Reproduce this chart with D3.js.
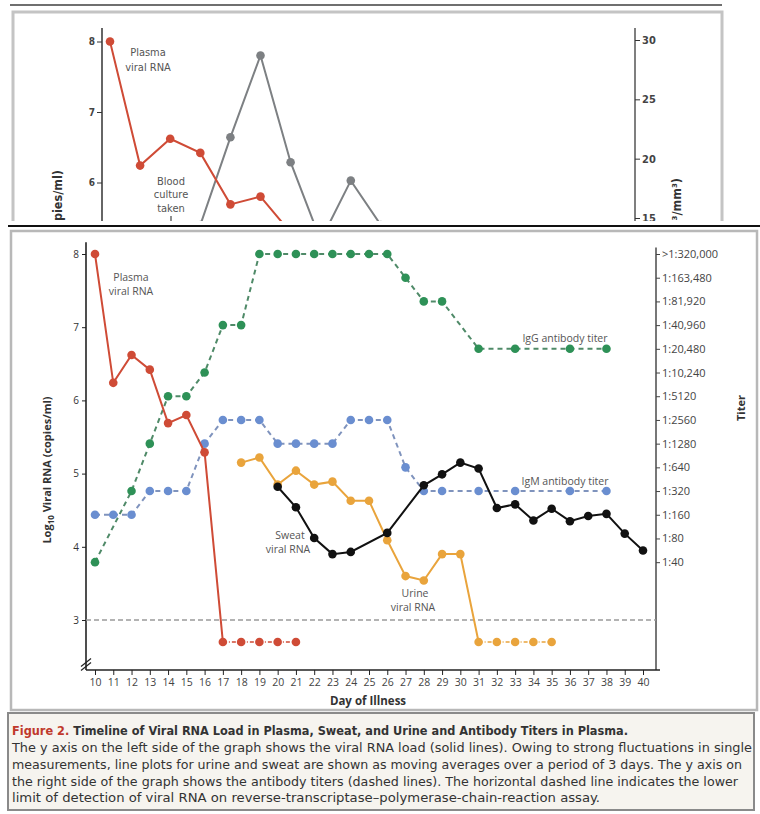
<!DOCTYPE html>
<html>
<head>
<meta charset="utf-8">
<script src="https://cdn.jsdelivr.net/npm/d3@7"></script>
<style>
  body { margin: 0; background: #fff; }
  svg text { font-family: "Open Sans", "DejaVu Sans", sans-serif; }
  .narrow { font-family: "Liberation Sans Narrow", "DejaVu Sans Condensed", "Open Sans", sans-serif !important; }
</style>
</head>
<body>
<svg id="chart" width="760" height="814"></svg>
<script>
// ---- data ----
var dayTicks = [10,11,12,13,14,15,16,17,18,19,20,21,22,23,24,25,26,27,28,29,30,31,32,33,34,35,36,37,38,39,40];
var leftTicks = [3,4,5,6,7,8];
var titerLevels = ["1:40","1:80","1:160","1:320","1:640","1:1280","1:2560","1:5120",
                   "1:10,240","1:20,480","1:40,960","1:81,920","1:163,480",">1:320,000"];

var detectionLimit = 3;
var undetected = 2.7;   // where negative samples are plotted

var plasmaDays = [10,11,12,13,14,15,16];
var plasmaVals = [8.0,6.24,6.62,6.42,5.69,5.80,5.29];
var plasmaNegDays = [17,18,19,20,21];

var urineDays = [18,19,20,21,22,23,24,25,26,27,28,29,30];
var urineVals = [5.15,5.22,4.85,5.04,4.85,4.89,4.63,4.63,4.09,3.60,3.54,3.90,3.90];
var urineNegDays = [31,32,33,34,35];

var sweatDays = [20,21,22,23,24,26,28,29,30,31,32,33,34,35,36,37,38,39,40];
var sweatVals = [4.82,4.54,4.12,3.90,3.93,4.19,4.84,4.99,5.15,5.07,4.53,4.58,4.36,4.52,4.35,4.42,4.45,4.18,3.95];

var igGDays = [10,12,13,14,15,16,17,18,19,20,21,22,23,24,25,26,27,28,29,31,33,36,38];
var igGTiters = ["1:40","1:320","1:1280","1:5120","1:5120","1:10,240","1:40,960","1:40,960",
                 ">1:320,000",">1:320,000",">1:320,000",">1:320,000",">1:320,000",">1:320,000",">1:320,000",">1:320,000",
                 "1:163,480","1:81,920","1:81,920","1:20,480","1:20,480","1:20,480","1:20,480"];

var igMDays = [10,11,12,13,14,15,16,17,18,19,20,21,22,23,24,25,26,27,28,29,31,33,36,38];
var igMTiters = ["1:160","1:160","1:160","1:320","1:320","1:320","1:1280","1:2560","1:2560","1:2560",
                 "1:1280","1:1280","1:1280","1:1280","1:2560","1:2560","1:2560","1:640","1:320","1:320",
                 "1:320","1:320","1:320","1:320"];

// fragment of the figure above (cropped)
var topLeftTicks = [5,6,7,8];
var topRightTicks = [15,20,25,30];
var countDays = [13,14,15,16,17,18,19];
var countVals = [14.4,21.8,28.7,19.7,13.1,18.15,14.4];

var captionLines = [
  "The y axis on the left side of the graph shows the viral RNA load (solid lines). Owing to strong fluctuations in single",
  "measurements, line plots for urine and sweat are shown as moving averages over a period of 3 days. The y axis on",
  "the right side of the graph shows the antibody titers (dashed lines). The horizontal dashed line indicates the lower",
  "limit of detection of viral RNA on reverse-transcriptase\u2013polymerase-chain-reaction assay."
];
var captionWidths = [740, 730, 726, 588];

var red = "#cf4b36", green = "#2e9157", blue = "#6a8ed0", orange = "#e9a43c", black = "#111";

function pts(days, vals) { return days.map(function (d, i) { return { d: d, v: vals[i] }; }); }

var svg = d3.select("#chart");

// ================= top fragment =================
svg.append("defs").append("clipPath").attr("id", "topclip")
  .append("rect").attr("x", 0).attr("y", 0).attr("width", 760).attr("height", 221);

var topG = svg.append("g").attr("clip-path", "url(#topclip)");

topG.append("line").attr("x1", 10).attr("x2", 722).attr("y1", 5).attr("y2", 5)
  .attr("stroke", "#6f6f6f").attr("stroke-width", 2);
topG.append("rect").attr("x", 13).attr("y", 12).attr("width", 709).attr("height", 260)
  .attr("fill", "none").attr("stroke", "#c4c4c4").attr("stroke-width", 3);

var xt = d3.scaleLinear().domain([10, 15]).range([110, 260.5]);
var ytL = d3.scaleLinear().domain([6, 8]).range([182.5, 41.5]);
var ytR = d3.scaleLinear().domain([15, 30]).range([218, 40]);

topG.append("line").attr("x1", 102).attr("x2", 102).attr("y1", 28).attr("y2", 260)
  .attr("stroke", "#333").attr("stroke-width", 1.5);
topG.append("line").attr("x1", 635).attr("x2", 635).attr("y1", 28).attr("y2", 260)
  .attr("stroke", "#555").attr("stroke-width", 1.5);

topG.append("g").attr("transform", "translate(102,0)")
  .call(d3.axisLeft(ytL).tickValues(topLeftTicks).tickSize(5).tickPadding(2).tickFormat(d3.format("d")))
  .call(function (g) { g.select(".domain").remove(); })
  .call(function (g) {
    g.selectAll("text").attr("class", "narrow").attr("font-size", 10).attr("font-weight", "bold").attr("fill", "#444");
    g.selectAll("line").attr("stroke", "#333");
  });

topG.append("g").attr("transform", "translate(635,0)")
  .call(d3.axisRight(ytR).tickValues(topRightTicks).tickSize(5).tickPadding(2).tickFormat(d3.format("d")))
  .call(function (g) { g.select(".domain").remove(); })
  .call(function (g) {
    g.selectAll("text").attr("class", "narrow").attr("font-size", 11).attr("font-weight", "bold").attr("fill", "#444");
    g.selectAll("line").attr("stroke", "#333");
  });

var countPts = pts(countDays, countVals);
topG.append("path").datum(countPts)
  .attr("d", d3.line().x(function (p) { return xt(p.d); }).y(function (p) { return ytR(p.v); }))
  .attr("fill", "none").attr("stroke", "#7d8083").attr("stroke-width", 2);
topG.selectAll(".cdot").data(countPts).enter().append("circle")
  .attr("cx", function (p) { return xt(p.d); }).attr("cy", function (p) { return ytR(p.v); })
  .attr("r", 4.3).attr("fill", "#7d8083");

var topPlasma = pts(plasmaDays, plasmaVals);
topG.append("path").datum(topPlasma)
  .attr("d", d3.line().x(function (p) { return xt(p.d); }).y(function (p) { return ytL(p.v); }))
  .attr("fill", "none").attr("stroke", red).attr("stroke-width", 2);
topG.selectAll(".pdot").data(topPlasma).enter().append("circle")
  .attr("cx", function (p) { return xt(p.d); }).attr("cy", function (p) { return ytL(p.v); })
  .attr("r", 4.3).attr("fill", red);

var tl = topG.append("g").attr("font-size", 11).attr("fill", "#555").attr("text-anchor", "middle");
tl.append("text").attr("class", "narrow").attr("x", 148).attr("y", 56).text("Plasma");
tl.append("text").attr("class", "narrow").attr("x", 148).attr("y", 71).text("viral RNA");
tl.append("text").attr("class", "narrow").attr("x", 171).attr("y", 185).text("Blood");
tl.append("text").attr("class", "narrow").attr("x", 171).attr("y", 198).text("culture");
tl.append("text").attr("class", "narrow").attr("x", 171).attr("y", 212).text("taken");
topG.append("line").attr("x1", 171).attr("x2", 171).attr("y1", 216).attr("y2", 230)
  .attr("stroke", "#444").attr("stroke-width", 1.2);

topG.append("text").attr("class", "narrow").attr("transform", "translate(62,170) rotate(-90)")
  .attr("text-anchor", "end").attr("font-size", 12.5).attr("font-weight", "bold").attr("fill", "#333")
  .text("Log10 Viral RNA (copies/ml)");
topG.append("text").attr("class", "narrow").attr("transform", "translate(681,178) rotate(-90)")
  .attr("text-anchor", "end").attr("font-size", 12.5).attr("font-weight", "bold").attr("fill", "#333")
  .text("Platelets (\u00d710\u00b3/mm\u00b3)");

svg.append("line").attr("x1", 8).attr("x2", 760).attr("y1", 226).attr("y2", 226)
  .attr("stroke", "#111").attr("stroke-width", 2);

// ================= main chart =================
svg.append("rect").attr("x", 11).attr("y", 231).attr("width", 746).attr("height", 479)
  .attr("fill", "#fff").attr("stroke", "#b8b8b8").attr("stroke-width", 2.5);

var x = d3.scaleLinear().domain([10, 40]).range([95, 643]);
var yL = d3.scaleLinear().domain([3, 8]).range([620, 254]);
var yT = d3.scalePoint().domain(titerLevels).range([yL(3.79), yL(8)]);
var yBase = yL(2.317);

// axes
svg.append("line").attr("x1", 86).attr("x2", 86).attr("y1", yL(8.16)).attr("y2", yBase)
  .attr("stroke", "#222").attr("stroke-width", 1.6);
svg.append("line").attr("x1", 656).attr("x2", 656).attr("y1", yL(8.09)).attr("y2", yBase)
  .attr("stroke", "#555").attr("stroke-width", 1.6);
svg.append("line").attr("x1", 86).attr("x2", 660).attr("y1", yBase).attr("y2", yBase)
  .attr("stroke", "#222").attr("stroke-width", 1.6);

// axis break marks
[0, 4].forEach(function (o) {
  svg.append("line").attr("x1", 81).attr("x2", 91).attr("y1", yL(2.42) + 4 + o).attr("y2", yL(2.42) - 4 + o)
    .attr("stroke", "#222").attr("stroke-width", 1.2);
});

svg.append("g").attr("transform", "translate(86,0)")
  .call(d3.axisLeft(yL).tickValues(leftTicks).tickSize(4).tickPadding(3).tickFormat(d3.format("d")))
  .call(function (g) { g.select(".domain").remove(); })
  .call(function (g) {
    g.selectAll("text").attr("font-size", 10).attr("fill", "#333");
    g.selectAll("line").attr("stroke", "#222");
  });

svg.append("g").attr("transform", "translate(0," + yBase + ")")
  .call(d3.axisBottom(x).tickValues(dayTicks).tickSize(5).tickPadding(4).tickFormat(d3.format("d")))
  .call(function (g) { g.select(".domain").remove(); })
  .call(function (g) {
    g.selectAll("text").attr("font-size", 10.5).attr("fill", "#444");
    g.selectAll("line").attr("stroke", "#222");
  });

svg.append("g").attr("transform", "translate(656,0)")
  .call(d3.axisRight(yT).tickSize(4).tickPadding(2))
  .call(function (g) { g.select(".domain").remove(); })
  .call(function (g) {
    g.selectAll("text").attr("font-size", 11).attr("fill", "#444");
    g.selectAll("line").attr("stroke", "#444");
  });

// axis titles
var yTitle = svg.append("text").attr("transform", "translate(51,470) rotate(-90)")
  .attr("text-anchor", "middle").attr("font-size", 11).attr("font-weight", "bold").attr("fill", "#333");
yTitle.append("tspan").text("Log");
yTitle.append("tspan").attr("font-size", 8).attr("dy", 3).text("10");
yTitle.append("tspan").attr("dy", -3).text(" Viral RNA (copies/ml)");

svg.append("text").attr("transform", "translate(745,408) rotate(-90)")
  .attr("text-anchor", "middle").attr("font-size", 11).attr("font-weight", "bold").attr("fill", "#333")
  .text("Titer");

svg.append("text").attr("x", 368).attr("y", 705).attr("text-anchor", "middle")
  .attr("font-size", 11.5).attr("font-weight", "bold").attr("fill", "#333").text("Day of Illness");

// detection limit
svg.append("line").attr("x1", 86).attr("x2", 656).attr("y1", yL(detectionLimit)).attr("y2", yL(detectionLimit))
  .attr("stroke", "#9a9a9a").attr("stroke-width", 1.3).attr("stroke-dasharray", "5,3");

// titers (dashed)
var titerLine = d3.line().x(function (p) { return x(p.d); }).y(function (p) { return yT(p.v); });
[[igMDays, igMTiters, blue, "#7f93bd"], [igGDays, igGTiters, green, "#4f8a68"]].forEach(function (s) {
  var p = pts(s[0], s[1]);
  svg.append("path").datum(p).attr("d", titerLine).attr("fill", "none")
    .attr("stroke", s[3]).attr("stroke-width", 2).attr("stroke-dasharray", "5,4");
  svg.selectAll(null).data(p).enter().append("circle")
    .attr("cx", function (q) { return x(q.d); }).attr("cy", function (q) { return yT(q.v); })
    .attr("r", 4.3).attr("fill", s[2]);
});

// viral RNA (solid) with undetectable runs (dotted)
var rnaLine = d3.line().x(function (p) { return x(p.d); }).y(function (p) { return yL(p.v); });
function negPts(days) { return days.map(function (d) { return { d: d, v: undetected }; }); }

[[urineDays, urineVals, urineNegDays, orange], [plasmaDays, plasmaVals, plasmaNegDays, red], [sweatDays, sweatVals, [], black]]
  .forEach(function (s) {
    var pos = pts(s[0], s[1]);
    var neg = negPts(s[2]);
    if (neg.length) {
      svg.append("path").datum(neg).attr("d", rnaLine).attr("fill", "none")
        .attr("stroke", s[3]).attr("stroke-width", 1.6).attr("stroke-dasharray", "4,2,1,2");
    }
    svg.append("path").datum(pos.concat(neg.slice(0, 1))).attr("d", rnaLine).attr("fill", "none")
      .attr("stroke", s[3]).attr("stroke-width", 2);
    svg.selectAll(null).data(pos.concat(neg)).enter().append("circle")
      .attr("cx", function (q) { return x(q.d); }).attr("cy", function (q) { return yL(q.v); })
      .attr("r", 4.3).attr("fill", s[3]);
  });

// series labels
var lab = svg.append("g").attr("font-size", 10.5).attr("fill", "#555").attr("text-anchor", "middle");
lab.append("text").attr("x", 131).attr("y", 281).text("Plasma");
lab.append("text").attr("x", 131).attr("y", 295).text("viral RNA");
lab.append("text").attr("x", 290).attr("y", 539).text("Sweat");
lab.append("text").attr("x", 288).attr("y", 553).text("viral RNA");
lab.append("text").attr("x", 415).attr("y", 597).text("Urine");
lab.append("text").attr("x", 413).attr("y", 611).text("viral RNA");
lab.append("text").attr("x", 565).attr("y", 342).text("IgG antibody titer");
lab.append("text").attr("x", 565).attr("y", 485).text("IgM antibody titer");

// ================= caption =================
svg.append("rect").attr("x", 8).attr("y", 713).attr("width", 746).attr("height", 97)
  .attr("fill", "#f6f4ef").attr("stroke", "#8a8a8a").attr("stroke-width", 2);

var cap = svg.append("text").attr("class", "narrow").attr("x", 12).attr("y", 735)
  .attr("font-size", 12.5).attr("font-weight", "bold").attr("fill", "#333")
  .attr("textLength", 616).attr("lengthAdjust", "spacingAndGlyphs");
cap.append("tspan").attr("fill", "#c0392b").text("Figure 2.");
cap.append("tspan").text(" Timeline of Viral RNA Load in Plasma, Sweat, and Urine and Antibody Titers in Plasma.");

captionLines.forEach(function (t, i) {
  svg.append("text").attr("class", "narrow").attr("x", 12).attr("y", 752 + i * 16.8)
    .attr("font-size", 12.5).attr("fill", "#333")
    .attr("textLength", captionWidths[i]).attr("lengthAdjust", "spacingAndGlyphs")
    .text(t);
});
</script>
</body>
</html>
